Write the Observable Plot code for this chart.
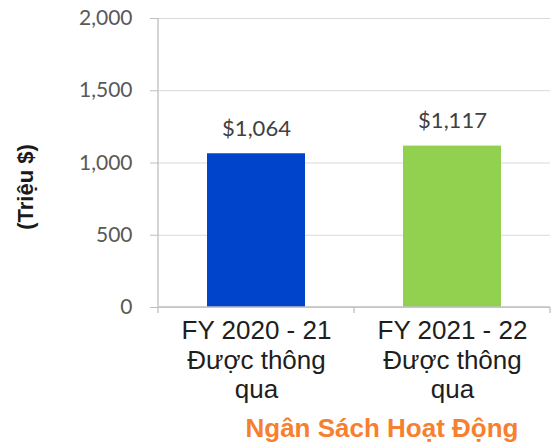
<!DOCTYPE html>
<html><head><meta charset="utf-8">
<script src="https://cdn.jsdelivr.net/npm/d3@7"></script>
<script src="https://cdn.jsdelivr.net/npm/@observablehq/plot@0.6"></script>
<style>
body{margin:0;background:#fff;}
#chart svg{display:block;}
#title{width:552px;box-sizing:border-box;padding-left:212px;text-align:center;margin-top:5px;
  font-family:"Liberation Sans",Arial,sans-serif;font-weight:bold;font-size:26px;line-height:30px;color:#f77f30;}
</style>
</head><body>
<div id="chart"></div>
<div id="title"></div>
<script>
const categories = ["FY 2020 - 21\nĐược thông\nqua", "FY 2021 - 22\nĐược thông\nqua"];
const values = [1064, 1117];
const valueLabels = ["$1,064", "$1,117"];
const barColors = ["#0044cc", "#92d050"];
const yTicks = [0, 500, 1000, 1500, 2000];
const yLabel = "(Triệu $)";
const titleText = "Ngân Sách Hoạt Động";

const data = categories.map((c, i) => ({cat: c, value: values[i], label: valueLabels[i], color: barColors[i]}));

const axisLines = (index, scales, values, dims) => {
  const x = scales.x, y = scales.y;
  const bw = x.bandwidth ? x.bandwidth() : (dims.width - dims.marginLeft - dims.marginRight) / categories.length;
  const g = d3.create("svg:g").attr("stroke", "#bfbfbf").attr("stroke-width", 1.3);
  const y0 = y(0);
  const xL = x(categories[0]);
  const xR = x(categories[categories.length - 1]) + bw;
  g.append("line").attr("x1", xL).attr("x2", xL).attr("y1", y(yTicks[yTicks.length - 1])).attr("y2", y0);
  g.append("line").attr("x1", xL).attr("x2", xR).attr("y1", y0).attr("y2", y0);
  const bounds = categories.map(c => x(c)).concat([xR]);
  for (const b of bounds) g.append("line").attr("x1", b).attr("x2", b).attr("y1", y0).attr("y2", y0 + 6);
  return g.node();
};

const chart = Plot.plot({
  width: 552,
  height: 408,
  marginTop: 18,
  marginBottom: 101,
  marginLeft: 158,
  marginRight: 2,
  style: {background: "#fff", overflow: "visible"},
  x: {domain: categories, padding: 0, label: null},
  y: {domain: [0, 2000], label: null},
  color: {type: "identity"},
  marks: [
    Plot.gridY(yTicks, {stroke: "#d9d9d9", strokeOpacity: 1}),
    Plot.barY(data, {x: "cat", y: "value", fill: "color", insetLeft: 49, insetRight: 49}),
    axisLines,
    Plot.axisY(yTicks, {tickSize: 8, tickPadding: 18, tickFormat: d3.format(","), stroke: "#bfbfbf", fill: "#595959",
      fontFamily: "Lato", fontSize: 21, label: null}),
    Plot.axisX({tickSize: 0, tickPadding: 11, fontFamily: "Liberation Sans", fontSize: 26, lineHeight: 1.13,
      fill: "#1e1e1e", label: null}),
    Plot.text(data, {x: "cat", y: "value", text: "label", lineAnchor: "bottom", dy: -18,
      fontFamily: "Lato", fontSize: 22, fill: "#404040"}),
    Plot.text([yLabel], {frameAnchor: "left", textAnchor: "middle", rotate: -90, dx: -133, dy: 24, fontWeight: "bold",
      fontSize: 22, letterSpacing: "2.5px", fontFamily: "Liberation Sans", fill: "#1a1a1a"})
  ]
});
document.getElementById("chart").append(chart);
document.getElementById("title").textContent = titleText;
</script>
</body></html>
